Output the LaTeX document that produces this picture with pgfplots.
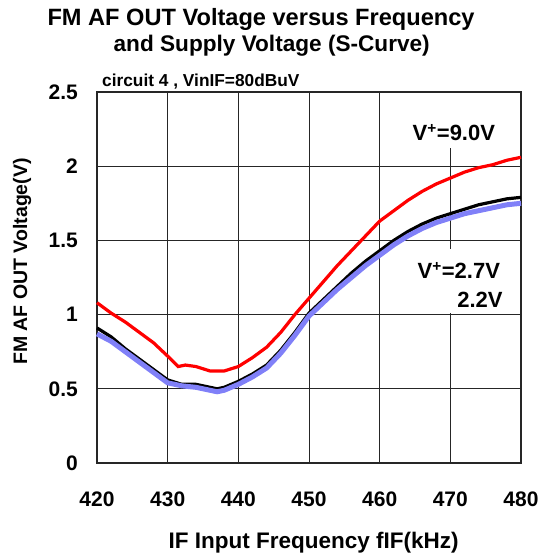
\documentclass[border=0pt]{standalone}
\usepackage{pgfplots}
\pgfplotsset{compat=1.18}
\usetikzlibrary{calc}
\usepackage{fontspec}
\setmainfont{Liberation Sans}
\definecolor{curvered}{RGB}{255,0,0}
\definecolor{curveblue}{RGB}{128,128,248}
\begin{document}
\begin{tikzpicture}
\begin{axis}[
    scale only axis,
    width=424pt, height=371pt,
    xmin=420, xmax=480,
    ymin=0, ymax=2.5,
    xtick={420,430,...,480},
    ytick={0,0.5,...,2.5},
    grid=major,
    grid style={black!85, line width=0.7pt},
    axis line style={black!85, line width=1.3pt},
    major tick length=0pt,
    tick label style={font=\bfseries\fontsize{21}{24}\selectfont, inner sep=0pt},
    /pgf/number format/assume math mode=true,
    yticklabel style={anchor=east, xshift=-19pt},
    xticklabel style={anchor=base, yshift=-43pt},
    clip=false,
]
\addplot[black, line width=3.2pt] coordinates {
 (420,0.91)(422,0.85)(424,0.77)(426,0.70)(428,0.63)(430,0.56)(432,0.53)(434,0.53)
 (436,0.51)(437,0.50)(438,0.51)(440,0.55)(442,0.60)(444,0.66)(446,0.76)(448,0.88)
 (450,1.01)(452,1.10)(454,1.19)(456,1.28)(458,1.36)(460,1.43)(462,1.50)(464,1.56)
 (466,1.61)(468,1.65)(470,1.68)(472,1.71)(474,1.74)(476,1.76)(478,1.78)(480,1.79)
};
\addplot[curveblue, line width=5pt] coordinates {
 (420,0.87)(422,0.82)(424,0.75)(426,0.68)(428,0.61)(430,0.54)(432,0.52)(434,0.51)
 (436,0.49)(437,0.48)(438,0.49)(440,0.53)(442,0.58)(444,0.64)(446,0.74)(448,0.86)
 (450,0.99)(452,1.08)(454,1.17)(456,1.25)(458,1.33)(460,1.40)(462,1.47)(464,1.53)
 (466,1.58)(468,1.62)(470,1.65)(472,1.68)(474,1.70)(476,1.72)(478,1.74)(480,1.75)
};
\addplot[curvered, line width=3.2pt] coordinates {
 (420,1.08)(422,1.01)(424,0.95)(426,0.88)(428,0.81)(430,0.72)(431.5,0.65)(432.5,0.66)
 (434,0.65)(436,0.62)(438,0.62)(440,0.65)(442,0.71)(444,0.78)(446,0.88)(448,1.00)
 (450,1.11)(452,1.22)(454,1.33)(456,1.43)(458,1.53)(460,1.63)(462,1.70)(464,1.77)
 (466,1.83)(468,1.88)(470,1.92)(472,1.96)(474,1.99)(476,2.01)(478,2.04)(480,2.06)
};
% white boxes behind the curve labels
\fill[white] (axis cs:465.8,2.49) rectangle (axis cs:475.4,2.12);
\fill[white] (axis cs:465.4,1.44) rectangle (axis cs:477.5,1.01);
\node[anchor=base, inner sep=0pt, font=\bfseries\fontsize{22}{26}\selectfont]
  at (axis cs:470.5,2.17) {V\textsuperscript{+}=9.0V};
\node[anchor=base, inner sep=0pt, font=\bfseries\fontsize{22}{26}\selectfont]
  at (axis cs:471.2,1.24) {V\textsuperscript{+}=2.7V};
\node[anchor=base, inner sep=0pt, font=\bfseries\fontsize{22}{26}\selectfont]
  at (axis cs:474.2,1.045) {2.2V};
\coordinate (sw) at (rel axis cs:0,0);
\coordinate (ne) at (rel axis cs:1,1);
\coordinate (tl1) at (rel axis cs:0.387,1);
\coordinate (tl2) at (rel axis cs:0.412,1);
\coordinate (xl) at (rel axis cs:0.511,0);
\coordinate (yl) at (rel axis cs:0,0.543);
\coordinate (nw) at (rel axis cs:0,1);
\end{axis}
% titles and axis labels
\node[anchor=base west, inner sep=0pt, font=\bfseries\fontsize{17.3}{20}\selectfont]
  at ($(nw)+(5pt,5pt)$) {circuit 4 , VinIF=80dBuV};
\node[anchor=base, inner sep=0pt, font=\bfseries\fontsize{23.6}{28}\selectfont]
  at ($(tl1)+(0,66pt)$) {FM AF OUT Voltage versus Frequency};
\node[anchor=base, inner sep=0pt, font=\bfseries\fontsize{22.6}{27}\selectfont]
  at ($(tl2)+(0,40pt)$) {and Supply Voltage (S-Curve)};
\node[anchor=base, inner sep=0pt, font=\bfseries\fontsize{22.5}{27}\selectfont]
  at ($(xl)+(0,-85pt)$) {IF Input Frequency fIF(kHz)};
\node[anchor=base, rotate=90, inner sep=0pt, font=\bfseries\fontsize{19.5}{23}\selectfont]
  at ($(yl)+(-70pt,0)$) {FM AF OUT Voltage(V)};
\path ($(sw)+(-97pt,-95pt)$) rectangle ($(ne)+(18pt,92pt)$);
\end{tikzpicture}
\end{document}
